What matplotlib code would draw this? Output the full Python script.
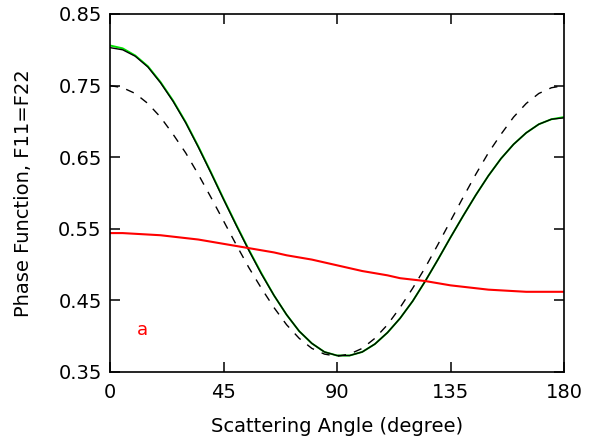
import numpy as np
import matplotlib
matplotlib.use("Agg")
import matplotlib.pyplot as plt

# scattering angle grid (degrees)
angle = list(range(0, 181, 5))

# solid black curve (F11=F22)
f_solid = [0.803, 0.800, 0.791, 0.776, 0.754, 0.728, 0.698, 0.664, 0.628, 0.591,
           0.555, 0.520, 0.487, 0.457, 0.430, 0.407, 0.390, 0.378, 0.373, 0.373,
           0.378, 0.389, 0.405, 0.425, 0.449, 0.477, 0.507, 0.538, 0.568, 0.597,
           0.624, 0.648, 0.668, 0.684, 0.696, 0.703, 0.705]

# green curve, nearly on top of the black solid one
f_green = [0.806, 0.802, 0.792, 0.777, 0.755, 0.729, 0.699, 0.665, 0.629, 0.592,
           0.556, 0.521, 0.488, 0.457, 0.430, 0.407, 0.390, 0.378, 0.373, 0.373,
           0.378, 0.389, 0.405, 0.425, 0.449, 0.477, 0.507, 0.538, 0.568, 0.597,
           0.624, 0.648, 0.668, 0.684, 0.696, 0.703, 0.706]

# dashed black curve (symmetric)
f_dashed = [0.750, 0.747, 0.739, 0.725, 0.706, 0.682, 0.656, 0.626, 0.594, 0.561,
            0.528, 0.496, 0.467, 0.440, 0.416, 0.397, 0.383, 0.375, 0.372, 0.375,
            0.383, 0.397, 0.416, 0.440, 0.467, 0.496, 0.528, 0.561, 0.594, 0.626,
            0.656, 0.682, 0.706, 0.725, 0.739, 0.747, 0.750]

# red curve
f_red = [0.544, 0.544, 0.543, 0.542, 0.541, 0.539, 0.537, 0.535, 0.532, 0.529,
         0.526, 0.523, 0.520, 0.517, 0.513, 0.510, 0.507, 0.503, 0.499, 0.495,
         0.491, 0.488, 0.485, 0.481, 0.479, 0.477, 0.474, 0.471, 0.469, 0.467,
         0.465, 0.464, 0.463, 0.462, 0.462, 0.462, 0.462]

xticks = [0, 45, 90, 135, 180]
yticks = [0.35, 0.45, 0.55, 0.65, 0.75, 0.85]

fig = plt.figure(figsize=(5.89, 4.47), dpi=100)
ax = fig.add_axes([0.1868, 0.1678, 0.7708, 0.8009])

ax.plot(angle, f_green, color="#00e000", lw=1.4)
ax.plot(angle, f_solid, color="black", lw=1.0)
ax.plot(angle, f_dashed, color="black", lw=1.0, dashes=(6, 6))
ax.plot(angle, f_red, color="red", lw=1.5)

ax.text(12.7, 0.409, "a", color="red", fontsize=13, ha="center", va="center")

ax.set_xlim(0, 180)
ax.set_ylim(0.35, 0.85)
ax.set_xticks(xticks)
ax.set_yticks(yticks)
ax.set_yticklabels([f"{v:.2f}" for v in yticks])
ax.tick_params(direction="in", length=7, width=1.1, top=True, right=True,
               labelsize=14, colors="black")
ax.tick_params(axis="x", pad=8)
ax.tick_params(axis="y", pad=6)
for s in ax.spines.values():
    s.set_linewidth(1.2)

ax.set_xlabel("Scattering Angle (degree)", fontsize=14, labelpad=11)
ax.set_ylabel("Phase Function, F11=F22", fontsize=14, labelpad=18)

fig.savefig("out.png", dpi=100)
